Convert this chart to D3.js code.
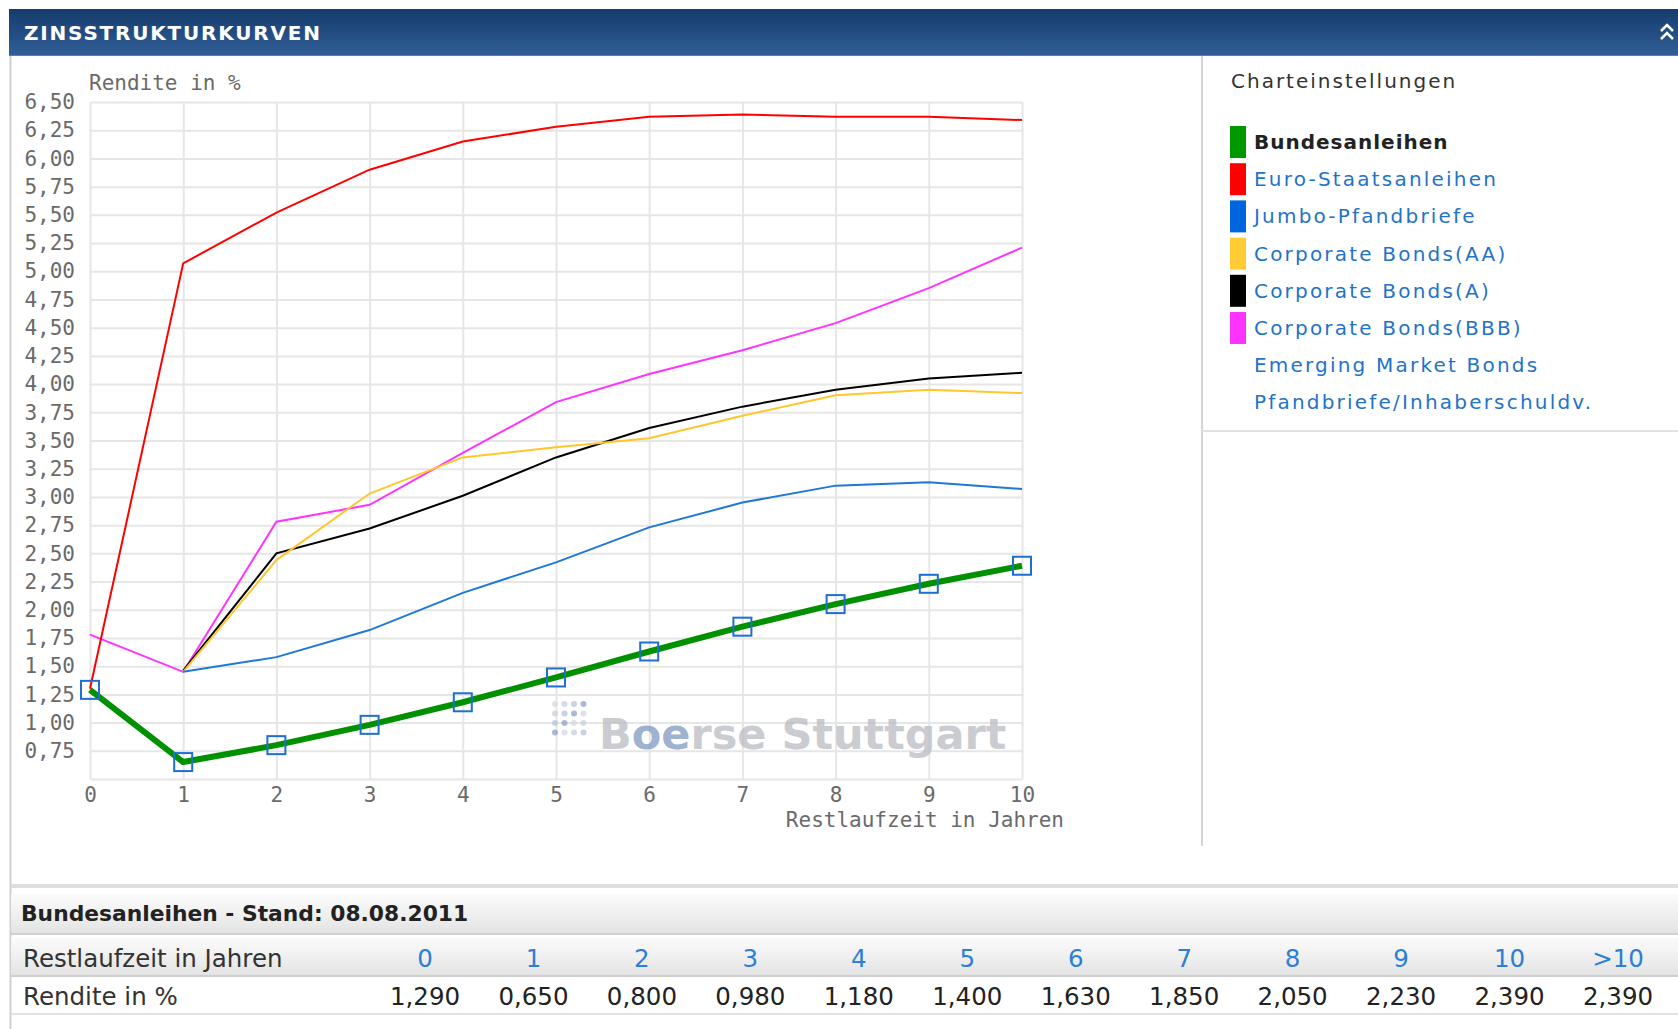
<!DOCTYPE html>
<html>
<head>
<meta charset="utf-8">
<script src="https://cdn.jsdelivr.net/npm/d3@7"></script>
<style>
  body { margin: 0; background: #fff; }
  svg { display: block; }
</style>
</head>
<body>
<svg id="chart"></svg>
<script>
// Daten
let jahre = [0, 1, 2, 3, 4, 5, 6, 7, 8, 9, 10]
let bundesanleihen = [1.29, 0.65, 0.80, 0.98, 1.18, 1.40, 1.63, 1.85, 2.05, 2.23, 2.39]
let euroStaatsanleihen = [1.30, 5.07, 5.52, 5.90, 6.15, 6.28, 6.37, 6.39, 6.37, 6.37, 6.34]
let jumboPfandbriefe = [null, 1.45, 1.58, 1.82, 2.15, 2.42, 2.73, 2.95, 3.10, 3.13, 3.07]
let corporateAA = [null, 1.45, 2.44, 3.03, 3.35, 3.44, 3.52, 3.72, 3.90, 3.95, 3.92]
let corporateA = [null, 1.46, 2.50, 2.72, 3.01, 3.35, 3.61, 3.80, 3.95, 4.05, 4.10]
let corporateBBB = [1.78, 1.45, 2.78, 2.93, 3.39, 3.84, 4.09, 4.30, 4.54, 4.85, 5.21]

let yTicks = [0.75, 1.00, 1.25, 1.50, 1.75, 2.00, 2.25, 2.50, 2.75, 3.00, 3.25, 3.50,
  3.75, 4.00, 4.25, 4.50, 4.75, 5.00, 5.25, 5.50, 5.75, 6.00, 6.25, 6.50]

let legendNamen = ['Bundesanleihen', 'Euro-Staatsanleihen', 'Jumbo-Pfandbriefe', 'Corporate Bonds(AA)',
  'Corporate Bonds(A)', 'Corporate Bonds(BBB)', 'Emerging Market Bonds', 'Pfandbriefe/Inhaberschuldv.']
let legendFarben = ['#009900', '#ff0000', '#0066dd', '#ffcc33', '#000000', '#ff33ff', null, null]

let tabelleLaufzeit = ['0', '1', '2', '3', '4', '5', '6', '7', '8', '9', '10', '>10']
let tabelleRendite = [1.290, 0.650, 0.800, 0.980, 1.180, 1.400, 1.630, 1.850, 2.050, 2.230, 2.390, 2.390]

// Linien (Reihenfolge = Zeichenreihenfolge)
let kurven = [
  { werte: corporateBBB, farbe: '#ff33ff' },
  { werte: corporateA, farbe: '#000000' },
  { werte: corporateAA, farbe: '#ffc62e' },
  { werte: jumboPfandbriefe, farbe: '#1f78d8' },
  { werte: euroStaatsanleihen, farbe: '#ff0000' }
]

let de = d3.formatLocale({ decimal: ',', thousands: '.', grouping: [3], currency: ['', ' €'] })
let fmt2 = de.format('.2f')
let fmt3 = de.format('.3f')

let W = 1678, H = 1029
let svg = d3.select('#chart').attr('width', W).attr('height', H)
let defs = svg.append('defs')

let kopf = defs.append('linearGradient').attr('id', 'kopf').attr('x1', 0).attr('y1', 0).attr('x2', 0).attr('y2', 1)
kopf.append('stop').attr('offset', '0%').attr('stop-color', '#163b6c')
kopf.append('stop').attr('offset', '100%').attr('stop-color', '#305f97')

let grauVerlauf = defs.append('linearGradient').attr('id', 'grau').attr('x1', 0).attr('y1', 0).attr('x2', 0).attr('y2', 1)
grauVerlauf.append('stop').attr('offset', '0%').attr('stop-color', '#fcfcfc')
grauVerlauf.append('stop').attr('offset', '100%').attr('stop-color', '#e3e3e3')

// Kopfzeile
svg.append('rect').attr('x', 9).attr('y', 9).attr('width', W - 9).attr('height', 47).attr('fill', 'url(#kopf)')
svg.append('line').attr('x1', 9).attr('x2', W).attr('y1', 55.5).attr('y2', 55.5).attr('stroke', '#5b80b0')
svg.append('text')
  .attr('x', 24).attr('y', 40)
  .attr('fill', '#fff')
  .style('font', 'bold 20px "DejaVu Sans"')
  .style('letter-spacing', '1.8px')
  .text('ZINSSTRUKTURKURVEN')
svg.append('path')
  .attr('d', 'M1661,31 L1667,25 L1673,31 M1661,39 L1667,33 L1673,39')
  .attr('fill', 'none').attr('stroke', '#fff').attr('stroke-width', 2.5)

// Rahmen / Trennlinien
svg.append('line').attr('x1', 10.5).attr('x2', 10.5).attr('y1', 56).attr('y2', H).attr('stroke', '#cfcfcf').attr('stroke-width', 2)
svg.append('line').attr('x1', 1202).attr('x2', 1202).attr('y1', 56).attr('y2', 846).attr('stroke', '#d4d4d4').attr('stroke-width', 2)
svg.append('line').attr('x1', 1202).attr('x2', W).attr('y1', 431).attr('y2', 431).attr('stroke', '#e2e2e2').attr('stroke-width', 2)

// Skalen
let x = d3.scaleLinear().domain([0, 10]).range([90, 1022])
let y = d3.scaleLinear().domain([0.5, 6.5]).range([779, 102])

let monoFont = '21px "DejaVu Sans Mono"'

// Gitter + Achsen
let xAxis = svg.append('g')
  .attr('transform', `translate(0,${y(0.5)})`)
  .call(d3.axisBottom(x).tickValues(jahre).tickSize(-(y(0.5) - y(6.5))).tickSizeOuter(0).tickPadding(8).tickFormat(d => d))
let yAxis = svg.append('g')
  .attr('transform', `translate(${x(0)},0)`)
  .call(d3.axisLeft(y).tickValues(yTicks).tickSize(-(x(10) - x(0))).tickSizeOuter(0).tickPadding(15).tickFormat(fmt2))

svg.selectAll('.tick line').attr('stroke', '#e6e6e6').attr('stroke-width', 2)
xAxis.select('.domain').attr('stroke', '#e6e6e6').attr('stroke-width', 2)
yAxis.select('.domain').remove()
svg.selectAll('.tick text').attr('fill', '#6a6a6a').style('font', monoFont)

svg.append('text')
  .attr('x', 89).attr('y', 90)
  .attr('fill', '#6a6a6a')
  .style('font', monoFont)
  .text('Rendite in %')
svg.append('text')
  .attr('x', 1064).attr('y', 827)
  .attr('text-anchor', 'end')
  .attr('fill', '#6a6a6a')
  .style('font', monoFont)
  .text('Restlaufzeit in Jahren')

// Wasserzeichen
let wz = svg.append('g').attr('opacity', 0.75)
let punktFarben = ['#d6d9df', '#c9d0dc', '#b8c4d8', '#8ea4c6']
for (let r = 0; r < 4; r++) {
  for (let c = 0; c < 4; c++) {
    wz.append('circle')
      .attr('cx', 555 + c * 9.5).attr('cy', 704 + r * 9.5).attr('r', 3)
      .attr('fill', punktFarben[(r + c) % 4])
  }
}
let wzText = wz.append('text')
  .attr('x', 599).attr('y', 749)
  .attr('fill', '#b9bcc2')
  .style('font', 'bold 43px "DejaVu Sans"')
wzText.append('tspan').text('B')
wzText.append('tspan').attr('fill', '#7f99bf').text('oe')
wzText.append('tspan').text('rse Stuttgart')

// Kurven
let linie = d3.line()
  .defined(d => d != null)
  .x((d, i) => x(jahre[i]))
  .y(d => y(d))

svg.selectAll('.kurve')
  .data(kurven)
  .enter()
  .append('path')
  .attr('class', 'kurve')
  .attr('d', d => linie(d.werte))
  .attr('fill', 'none')
  .attr('stroke', d => d.farbe)
  .attr('stroke-width', 2)

// Bundesanleihen (hervorgehoben)
svg.append('path')
  .attr('d', linie(bundesanleihen))
  .attr('fill', 'none')
  .attr('stroke', '#009000')
  .attr('stroke-width', 6)
  .attr('stroke-linejoin', 'round')

svg.selectAll('.punkt')
  .data(bundesanleihen)
  .enter()
  .append('rect')
  .attr('class', 'punkt')
  .attr('x', (d, i) => x(jahre[i]) - 9)
  .attr('y', d => y(d) - 9)
  .attr('width', 18).attr('height', 18)
  .attr('fill', 'none')
  .attr('stroke', '#1e6fd2')
  .attr('stroke-width', 2)

// Legende
svg.append('text')
  .attr('x', 1231).attr('y', 88)
  .attr('fill', '#333')
  .style('font', '20px "DejaVu Sans"')
  .style('letter-spacing', '2px')
  .text('Charteinstellungen')

let legende = svg.selectAll('.leg')
  .data(legendNamen)
  .enter()
  .append('g')
  .attr('class', 'leg')
  .attr('transform', (d, i) => `translate(1230,${142 + i * 37.2})`)

legende.filter((d, i) => legendFarben[i])
  .append('rect')
  .attr('x', 0).attr('y', -16).attr('width', 16).attr('height', 32)
  .attr('fill', (d, i) => legendFarben[legendNamen.indexOf(d)])

legende.append('text')
  .attr('x', 24).attr('y', 7)
  .attr('fill', (d, i) => i == 0 ? '#222' : '#1f73c9')
  .style('font', (d, i) => i == 0 ? 'bold 20px "DejaVu Sans"' : '20px "DejaVu Sans"')
  .style('letter-spacing', (d, i) => i == 0 ? '1px' : '2.2px')
  .text(d => d)

// Tabelle unten
svg.append('rect').attr('x', 11).attr('y', 884).attr('width', W).attr('height', 4).attr('fill', '#dedede')
svg.append('rect').attr('x', 11).attr('y', 894).attr('width', W).attr('height', 40).attr('fill', 'url(#grau)')
svg.append('line').attr('x1', 11).attr('x2', W).attr('y1', 934).attr('y2', 934).attr('stroke', '#d0d0d0').attr('stroke-width', 2)
svg.append('rect').attr('x', 11).attr('y', 937).attr('width', W).attr('height', 39).attr('fill', 'url(#grau)')
svg.append('line').attr('x1', 11).attr('x2', W).attr('y1', 976).attr('y2', 976).attr('stroke', '#cfcfcf').attr('stroke-width', 2)
svg.append('line').attr('x1', 11).attr('x2', W).attr('y1', 1014).attr('y2', 1014).attr('stroke', '#e2e2e2').attr('stroke-width', 2)

svg.append('text')
  .attr('x', 21).attr('y', 921)
  .attr('fill', '#222')
  .style('font', 'bold 21.8px "DejaVu Sans"')
  .text('Bundesanleihen - Stand: 08.08.2011')

let tabFont = '24.5px "DejaVu Sans"'
svg.append('text').attr('x', 23).attr('y', 967).attr('fill', '#333').style('font', tabFont).text('Restlaufzeit in Jahren')
svg.append('text').attr('x', 23).attr('y', 1005).attr('fill', '#333').style('font', tabFont).text('Rendite in %')

let spalte = d3.scalePoint().domain(tabelleLaufzeit).range([425, 1618])

svg.selectAll('.kopfwert')
  .data(tabelleLaufzeit)
  .enter()
  .append('text')
  .attr('x', d => spalte(d)).attr('y', 967)
  .attr('text-anchor', 'middle')
  .attr('fill', '#2a80d6')
  .style('font', tabFont)
  .text(d => d)

svg.selectAll('.wert')
  .data(tabelleRendite)
  .enter()
  .append('text')
  .attr('x', (d, i) => spalte(tabelleLaufzeit[i])).attr('y', 1005)
  .attr('text-anchor', 'middle')
  .attr('fill', '#222')
  .style('font', tabFont)
  .text(d => fmt3(d))
</script>
</body>
</html>
